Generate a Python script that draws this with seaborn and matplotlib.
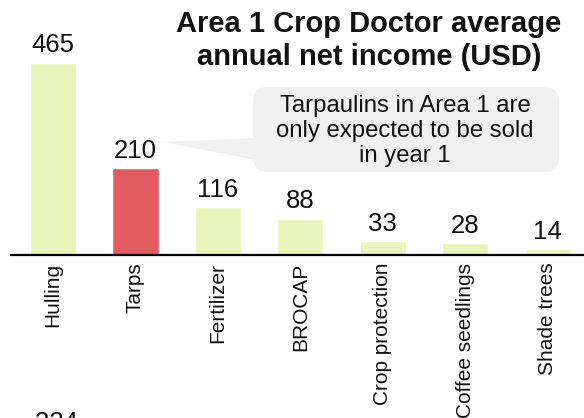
import matplotlib
matplotlib.use("Agg")
import matplotlib.pyplot as plt
import seaborn as sns
from matplotlib.patches import FancyBboxPatch, Polygon

categories = ["Hulling", "Tarps", "Fertilizer", "BROCAP", "Crop protection",
              "Coffee seedlings", "Shade trees"]
values = [465, 210, 116, 88, 33, 28, 14]
highlight = "Tarps"
title = "Area 1 Crop Doctor average\nannual net income (USD)"
note = "Tarpaulins in Area 1 are\nonly expected to be sold\nin year 1"
next_chart_value = "324"

GREEN = "#e9f4b9"
RED = "#e15b60"

sns.set_theme(style="white")
plt.rcParams["font.family"] = ["Liberation Sans", "DejaVu Sans"]

W, H = 584, 418
fig = plt.figure(figsize=(W / 100, H / 100), dpi=100)
ax = fig.add_axes([11 / W, 1 - 255 / H, 1 - 11 / W, 255 / H])

palette = {c: (RED if c == highlight else GREEN) for c in categories}
sns.barplot(x=categories, y=values, hue=categories, palette=palette,
            legend=False, width=0.56, saturation=1, ax=ax)

for cont in ax.containers:
    ax.bar_label(cont, fmt="%d", padding=4, fontsize=18.5, color="#111111")

ax.set_xlim(-0.51, 6.44)
ax.set_ylim(0, 617.6)
ax.set_yticks([])
ax.set_ylabel("")
for s in ["top", "right", "left"]:
    ax.spines[s].set_visible(False)
ax.spines["bottom"].set_color("black")
ax.spines["bottom"].set_linewidth(1.6)
ax.tick_params(axis="x", length=0, pad=5.5, labelsize=15, labelcolor="#111111")
plt.setp(ax.get_xticklabels(), rotation=90, ha="center", va="top")
ax.patch.set_alpha(0)

# Title
fig.text(369 / W, 1 - 40.5 / H, title, ha="center", va="center",
         fontsize=21, fontweight="bold", color="#111111", linespacing=1.2)

# Callout box with pointer
def px(x, y):
    return (x / W, 1 - y / H)

box = FancyBboxPatch(px(253, 172), (559 - 253) / W, (172 - 87) / H,
                     boxstyle="round,pad=0,rounding_size=0.025",
                     transform=fig.transFigure, fc="#f0f0f0", ec="none",
                     mutation_aspect=W / H, zorder=3)
fig.add_artist(box)
wedge = Polygon([px(163, 142), px(256, 138), px(256, 160)], closed=True,
                transform=fig.transFigure, fc="#f0f0f0", ec="none", zorder=3)
fig.add_artist(wedge)
fig.text(405 / W, 1 - 131 / H, note, ha="center", va="center", fontsize=17.2,
         color="#111111", linespacing=1.15, zorder=4)

# Partial label of the next chart below (cut off, as in the reference)
fig.text(56 / W, -11.6 / H, next_chart_value, ha="center", va="baseline",
         fontsize=18.5, color="#111111")

fig.savefig("out.png", dpi=100)
